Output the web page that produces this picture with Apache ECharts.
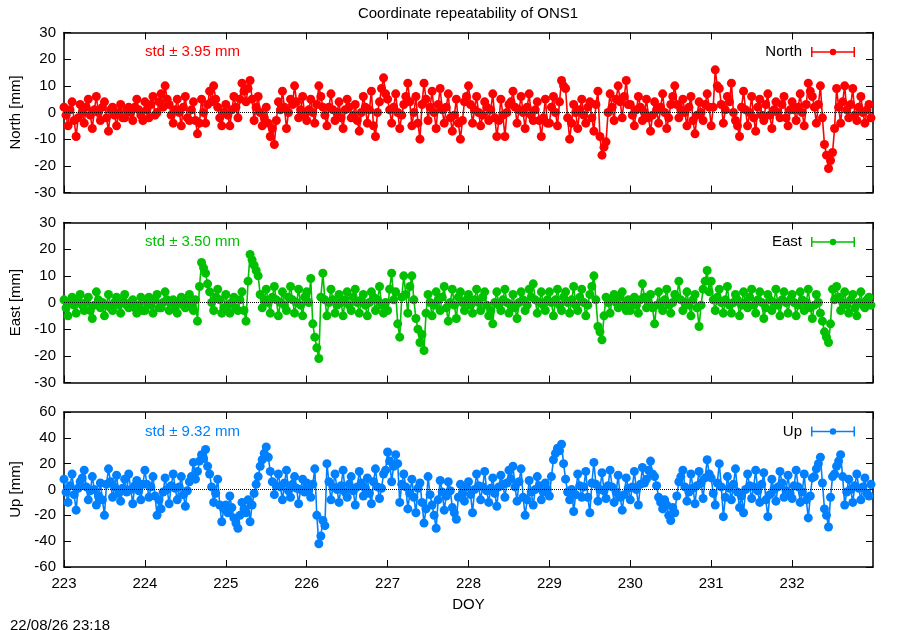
<!DOCTYPE html>
<html>
<head>
<meta charset="utf-8">
<script src="https://cdn.jsdelivr.net/npm/echarts@6/dist/echarts.min.js"></script>
<style>
html,body{margin:0;padding:0;background:#fff;}
#c{width:900px;height:630px;}
</style>
</head>
<body>
<div id="c"></div>
<script>
// First day of year; each row below holds one day of epochs (evenly spaced within the day)
const startDay = 223;
const xTicks = [223, 224, 225, 226, 227, 228, 229, 230, 231, 232];

// North residuals [mm], one row per day 223 .. 232
const north = [
  [2,-1,-5,1,4,-3,-9,-2,3,0,-4,2,5,-1,-6,1,6,0,-3,2,4,-2,-7,1,2,-1,-5,0,3,-2,-2,1,2,0,-3,2,5,1,-1,-3],
  [4,1,-2,3,6,-1,0,4,7,2,10,5,3,-1,-4,1,5,0,-5,2,6,-2,-3,1,4,-3,-8,-4,5,0,-4,3,8,4,10,5,2,-2,-5,0],
  [3,-1,-5,1,6,2,-2,5,11,8,4,9,12,5,-3,2,6,0,-5,-2,2,-4,-9,-6,-12,-3,4,1,8,2,-6,0,5,3,10,4,-2,1,6,-1],
  [-3,1,5,0,-4,3,10,6,2,-1,-5,2,7,1,-3,0,4,-2,-6,1,5,2,-2,-1,3,-3,-7,0,6,2,-4,1,8,-5,-9,0,4,9,13,7],
  [5,1,-4,2,7,0,-6,-1,3,6,11,4,-5,0,6,-4,-10,3,11,5,-3,2,8,0,-6,3,9,1,-4,2,7,-2,-7,-1,5,-4,-10,-3,4,6],
  [10,3,-4,1,6,0,-5,-1,4,2,-3,1,7,-2,-9,-3,5,-1,-9,0,3,4,8,2,-4,1,6,0,-6,2,7,-1,-3,1,4,-3,-9,-2,5,-4],
  [-4,2,6,0,-5,4,12,10,9,-2,-10,-4,3,0,-6,1,5,-1,-4,2,4,-2,-7,3,8,-9,-16,-13,-11,0,7,2,-3,5,10,4,-2,6,12,3],
  [3,-1,-5,1,6,2,-3,0,5,-2,-7,-1,4,1,-4,2,7,0,-6,-2,3,6,10,3,-2,1,5,0,-5,2,6,-3,-8,-1,4,0,-3,3,7,2],
  [-5,2,16,10,9,3,-4,1,6,4,11,0,-3,-5,-9,2,8,1,-5,0,6,-2,-7,2,5,-1,-3,3,7,-1,-6,1,4,0,-2,3,6,-2,-5,1],
  [4,1,-3,2,7,0,-5,3,11,8,6,2,-4,3,10,-2,-12,-16,-21,-18,-15,-6,9,2,-4,4,10,1,-2,3,9,-1,-3,2,6,0,-4,1,3,-2]
];

// East residuals [mm]
const east = [
  [1,-2,-5,0,2,-1,-4,1,3,-1,-3,0,2,-3,-6,-1,4,1,-2,0,-5,-1,3,-2,-3,0,2,-1,-4,1,3,-1,-2,0,1,-2,-4,-1,2,-3],
  [-3,0,2,-1,-4,1,3,-2,-2,0,4,1,-3,-1,1,-2,-4,0,2,-1,-2,1,3,-1,-3,1,-7,6,15,13,11,7,4,0,-3,2,5,1,-4,-2],
  [3,-1,-4,0,2,-2,-3,1,4,-3,-7,8,18,16,14,12,10,3,-2,1,5,0,-4,2,6,1,-5,0,4,-1,-3,2,6,1,-4,0,5,-1,-5,2],
  [4,0,9,-8,-13,-17,-21,2,11,1,-5,0,5,1,-4,-1,3,0,-5,1,4,-1,-3,2,5,0,-4,1,3,-1,-5,0,4,2,-3,1,6,-1,-4,0],
  [-3,5,11,1,4,-8,-13,2,10,3,-4,6,10,1,-6,-10,-15,-12,-18,-4,3,0,-5,-1,4,1,-3,2,6,-2,-7,0,5,-1,-6,2,4,0,-3,1],
  [3,-1,-4,1,5,0,-3,2,4,-1,-5,-3,-8,0,4,-1,-3,1,5,0,-4,-1,3,-2,-6,0,4,1,-3,-1,5,2,7,1,-4,0,4,-1,-3,1],
  [4,0,-5,1,5,-1,-3,2,4,0,-4,1,6,-1,-3,2,5,0,-5,-1,3,6,10,1,-9,-11,-14,-5,2,0,-4,1,3,0,-2,2,4,-1,-3,1],
  [-3,0,2,-1,-4,1,7,2,-2,0,3,-2,-8,-1,4,0,-3,1,5,-1,-4,0,3,2,8,1,-3,0,4,-1,-5,1,3,-2,-9,-1,5,8,12,4],
  [8,1,-3,2,5,0,-4,1,6,-1,-4,0,3,1,-5,-1,4,0,-2,2,5,-1,-4,1,4,0,-6,-2,3,1,-3,0,5,-1,-5,1,4,0,-4,1],
  [3,0,-5,-1,4,1,-3,0,5,-2,-6,-1,3,0,-4,-7,-11,-13,-15,-8,5,1,6,2,-3,0,4,-1,-4,1,3,-2,-5,0,4,-1,-2,1,2,-1]
];

// Up residuals [mm]
const up = [
  [8,-2,-10,3,12,-4,-16,1,6,9,15,2,-8,-1,10,0,-12,-5,5,-8,-20,4,16,6,-6,2,11,-3,-9,1,8,-2,12,0,-11,3,7,-1,-8,4],
  [15,4,-6,2,10,-5,-20,-8,-15,-2,9,0,-11,3,12,1,-8,2,10,-4,-13,-1,6,10,21,8,14,22,27,24,31,18,12,2,-10,-3,8,-12,-25,-15],
  [-12,-18,-5,-14,-22,-26,-30,-20,-10,-15,-18,-8,-25,-12,-3,4,10,18,23,28,33,25,14,6,-4,3,12,2,-8,5,15,-1,-6,4,10,1,-11,0,8,-2],
  [5,-1,-6,4,16,-20,-42,-36,-24,-28,20,6,-8,2,12,0,-10,3,15,-2,-6,4,10,-1,-12,2,14,5,-5,1,9,-3,-11,6,16,2,-7,1,12,15],
  [29,22,6,18,27,20,-10,4,12,2,-15,-3,8,-6,-18,1,5,-10,-26,-15,10,-4,-12,-20,-30,-8,7,-2,-16,-5,6,-1,-14,-18,-23,-6,4,-3,-9,2],
  [6,-4,-18,0,12,3,-8,2,14,-1,-10,1,9,-3,-13,2,11,4,-6,5,15,8,18,2,-9,6,16,-6,-20,-8,7,-2,-12,0,10,3,-8,-2,5,0],
  [-5,10,23,28,32,30,35,20,8,-2,-8,0,-17,-4,12,3,-6,2,14,-6,-18,5,21,4,-9,0,13,-1,-7,3,15,2,-10,-2,11,-6,-16,-4,9,1],
  [-8,2,14,0,-12,4,17,5,8,15,22,12,10,3,-6,-10,-15,-8,-12,-20,-24,-14,-18,-5,6,10,15,2,-9,-2,12,1,-11,3,14,5,-7,9,23,12],
  [9,-3,-12,5,20,2,-21,-6,10,1,-8,4,16,-2,-14,-5,-18,0,12,3,-7,2,15,-1,-10,4,13,-8,-21,-4,8,0,-9,2,14,5,-6,-1,11,-3],
  [-7,3,15,2,-10,-2,12,-8,-22,-5,9,10,16,20,25,5,-15,-20,-29,-6,10,12,18,22,27,10,-12,-2,8,0,-10,3,12,1,-8,2,9,-3,-5,4]
];

const seriesNames = ['North', 'East', 'Up'];
const stdTexts = ['std \u00b1 3.95 mm', 'std \u00b1 3.50 mm', 'std \u00b1 9.32 mm'];
const yNames = ['North [mm]', 'East [mm]', 'Up [mm]'];
const yRanges = [[-30, 30, 10], [-30, 30, 10], [-60, 60, 20]];
const colors = ['#ff0000', '#00c000', '#0080ff'];
const values = [north, east, up];

const FONT = 'Liberation Sans, Arial, sans-serif';
const FS = 15;
const grids = [
  {left: 64, right: 27, top: 32.5, height: 160},
  {left: 64, right: 27, top: 222.5, height: 160},
  {left: 64, right: 27, top: 412, height: 155}
];

function toPoints(rows) {
  const pts = [];
  rows.forEach((row, d) => {
    row.forEach((v, k) => pts.push([startDay + d + k / row.length, v]));
  });
  return pts;
}

const xAxes = [], yAxes = [], series = [], legends = [], titles = [];
titles.push({text: 'Coordinate repeatability of ONS1', left: 463, textAlign: 'center', top: 1,
  textStyle: {fontFamily: FONT, fontSize: FS, fontWeight: 'normal', color: '#000'}});
titles.push({text: '22/08/26 23:18', left: 5, top: 613,
  textStyle: {fontFamily: FONT, fontSize: FS, fontWeight: 'normal', color: '#000'}});

const legendIcon = 'path://M0,0h1.5v10h-1.5z M42.5,0h1.5v10h-1.5z M0,4.3h44v1.4h-44z M22,1.8a3.2,3.2 0 1,1 0,6.4a3.2,3.2 0 1,1 0,-6.4z';

for (let g = 0; g < 3; g++) {
  const isLast = g === 2;
  const tickStyle = {show: true, inside: true, length: 7, lineStyle: {color: '#000', width: 1}};
  xAxes.push({
    type: 'value', gridIndex: g, position: 'bottom', min: 223, max: 233, interval: 1,
    axisLine: {show: true, onZero: false, lineStyle: {color: '#000', width: 1.5}},
    axisTick: tickStyle, splitLine: {show: false},
    axisLabel: {show: isLast, showMaxLabel: false, color: '#000', fontFamily: FONT, fontSize: FS, margin: 9,
      formatter: v => xTicks.indexOf(v) >= 0 ? String(v) : ''},
    name: isLast ? 'DOY' : '', nameLocation: 'middle', nameGap: 30,
    nameTextStyle: {color: '#000', fontFamily: FONT, fontSize: FS}
  });
  xAxes.push({
    type: 'value', gridIndex: g, position: 'top', min: 223, max: 233, interval: 1,
    axisLine: {show: true, onZero: false, lineStyle: {color: '#000', width: 1.5}},
    axisTick: tickStyle, splitLine: {show: false}, axisLabel: {show: false}
  });
  const [mn, mx, iv] = yRanges[g];
  yAxes.push({
    type: 'value', gridIndex: g, position: 'left', min: mn, max: mx, interval: iv,
    axisLine: {show: true, onZero: false, lineStyle: {color: '#000', width: 1.5}},
    axisTick: tickStyle, splitLine: {show: false},
    axisLabel: {color: '#000', fontFamily: FONT, fontSize: FS, margin: 8},
    name: yNames[g], nameLocation: 'middle', nameGap: 40, nameRotate: 90,
    nameTextStyle: {color: '#000', fontFamily: FONT, fontSize: FS}
  });
  yAxes.push({
    type: 'value', gridIndex: g, position: 'right', min: mn, max: mx, interval: iv,
    axisLine: {show: true, onZero: false, lineStyle: {color: '#000', width: 1.5}},
    axisTick: tickStyle, splitLine: {show: false}, axisLabel: {show: false}
  });
  series.push({
    type: 'line', xAxisIndex: g * 2, yAxisIndex: g * 2, data: [], silent: true, z: 1,
    markLine: {silent: true, symbol: 'none', label: {show: false},
      lineStyle: {color: '#000', type: 'dotted', width: 1}, data: [{yAxis: 0}]}
  });
  series.push({
    name: seriesNames[g], type: 'line', xAxisIndex: g * 2, yAxisIndex: g * 2,
    data: toPoints(values[g]), z: 3, symbol: 'circle', symbolSize: 9, showSymbol: true,
    showAllSymbol: true, animation: false,
    itemStyle: {color: colors[g]},
    lineStyle: {color: colors[g], width: 1.6}
  });
  legends.push({
    data: [seriesNames[g]], right: 40, top: grids[g].top + 7, align: 'right',
    icon: legendIcon, itemWidth: 44, itemHeight: 10, itemGap: 0,
    textStyle: {color: '#000', fontFamily: FONT, fontSize: FS, padding: [0, 4, 0, 0]},
    selectedMode: false
  });
  titles.push({text: stdTexts[g], left: 140, top: grids[g].top + 7,
    textStyle: {fontFamily: FONT, fontSize: FS, fontWeight: 'normal', color: colors[g]}});
}

const chart = echarts.init(document.getElementById('c'), null, {renderer: 'canvas'});
chart.setOption({
  backgroundColor: '#fff',
  animation: false,
  title: titles,
  grid: grids,
  xAxis: xAxes,
  yAxis: yAxes,
  legend: legends,
  series: series
});
</script>
</body>
</html>
